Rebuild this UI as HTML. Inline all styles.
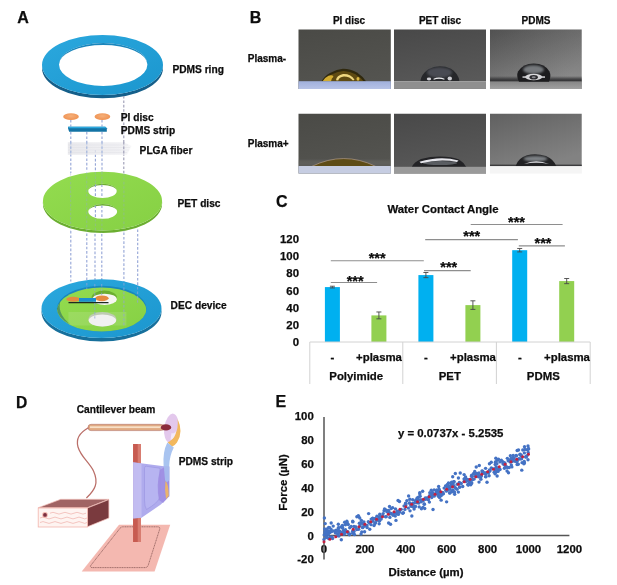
<!DOCTYPE html>
<html><head><meta charset="utf-8"><title>Figure</title>
<style>
html,body{margin:0;padding:0;background:#fff}
svg{display:block}
text{font-family:"Liberation Sans",Arial,sans-serif;font-weight:700;fill:#0d0d0d;stroke:#0d0d0d;stroke-width:0.25px;stroke-linejoin:round}
</style></head><body>
<svg width="617" height="585" viewBox="0 0 617 585">
<defs>
<linearGradient id="gring" x1="0" y1="0" x2="1" y2="1"><stop offset="0" stop-color="#2BA8DE"/><stop offset="1" stop-color="#1B96CE"/></linearGradient>
<linearGradient id="gpet" x1="0" y1="0" x2="1" y2="1"><stop offset="0" stop-color="#93DC4F"/><stop offset="1" stop-color="#86D044"/></linearGradient>
<radialGradient id="gpi" cx="0.5" cy="0.4" r="0.6"><stop offset="0" stop-color="#F6B07A"/><stop offset="1" stop-color="#EE9050"/></radialGradient>
<linearGradient id="gplga" x1="0" y1="0" x2="1" y2="0"><stop offset="0" stop-color="#E4E4E8"/><stop offset="0.8" stop-color="#ECECF0"/><stop offset="1" stop-color="#F6F6F8"/></linearGradient>
<linearGradient id="gbg1" x1="0" y1="0" x2="0.3" y2="1"><stop offset="0" stop-color="#4A4A46"/><stop offset="1" stop-color="#545450"/></linearGradient>
<linearGradient id="gbg2" x1="0" y1="0" x2="0.3" y2="1"><stop offset="0" stop-color="#484848"/><stop offset="1" stop-color="#595959"/></linearGradient>
<linearGradient id="gbg3" x1="0" y1="0" x2="1" y2="0.5"><stop offset="0" stop-color="#585858"/><stop offset="1" stop-color="#7C7C7C"/></linearGradient>
<linearGradient id="gbg3v" x1="0" y1="0" x2="0" y2="1"><stop offset="0" stop-color="#000" stop-opacity="0.08"/><stop offset="0.8" stop-color="#fff" stop-opacity="0.1"/></linearGradient>
<linearGradient id="gsub1" x1="0" y1="0" x2="0" y2="1"><stop offset="0" stop-color="#A0B0DC"/><stop offset="0.85" stop-color="#B6C2E6"/></linearGradient>
<linearGradient id="gband" x1="0" y1="0" x2="0" y2="1"><stop offset="0" stop-color="#303032" stop-opacity="0"/><stop offset="0.55" stop-color="#303032" stop-opacity="0.75"/><stop offset="1" stop-color="#2C2C2E"/></linearGradient>
<linearGradient id="gsub3" x1="0" y1="0" x2="0" y2="1"><stop offset="0" stop-color="#868686"/><stop offset="1" stop-color="#A2A2A2"/></linearGradient>
<linearGradient id="gbg3b" x1="0" y1="0" x2="0.5" y2="1"><stop offset="0" stop-color="#606060"/><stop offset="1" stop-color="#828282"/></linearGradient>
<filter id="b1" x="-30%" y="-30%" width="160%" height="160%"><feGaussianBlur stdDeviation="0.9"/></filter>
<filter id="b03" x="-30%" y="-30%" width="160%" height="160%"><feGaussianBlur stdDeviation="0.3"/></filter>
<filter id="b05" x="-30%" y="-30%" width="160%" height="160%"><feGaussianBlur stdDeviation="0.45"/></filter>
<clipPath id="c11"><rect x="298.5" y="29.5" width="92.3" height="59.5"/></clipPath>
<clipPath id="c12"><rect x="394" y="29.5" width="92" height="59.3"/></clipPath>
<clipPath id="c13"><rect x="489.9" y="29.5" width="91.9" height="59.5"/></clipPath>
<clipPath id="c21"><rect x="298.5" y="113.7" width="92.3" height="59.9"/></clipPath>
<clipPath id="c22"><rect x="394" y="113.7" width="92" height="59.9"/></clipPath>
<clipPath id="c23"><rect x="489.9" y="113.7" width="91.9" height="52.6"/></clipPath>
</defs>
<rect width="617" height="585" fill="#fff"/>
<g id="pA">
<text x="17.2" y="22.6" font-size="16">A</text>
<path d="M42,65 a60.5,30 0 1,0 121,0 v3.2 a60.5,30 0 1,1 -121,0 z" fill="#155F8A"/>
<path fill-rule="evenodd" fill="url(#gring)" d="M42,65 a60.5,30 0 1,0 121,0 a60.5,30 0 1,0 -121,0 z M59,64.5 a44.2,21.5 0 1,0 88.4,0 a44.2,21.5 0 1,0 -88.4,0 z"/>
<path d="M59,64.5 a44.2,21.5 0 0,1 88.4,0 a44.2,19.6 0 0,0 -88.4,0 z" fill="#1A86BC"/>
<text x="172.4" y="72.6" font-size="10.2">PDMS ring</text>
<g stroke="#93A4D6" stroke-width="1.1" stroke-dasharray="2.6,1.8" fill="none">
<path d="M70.8,120 V126.5 M70.8,132 V173"/><path d="M86.8,132 V171"/><path d="M95.4,150 V185"/><path d="M102,120 V126.5 M102,132 V185"/>
</g>
<path d="M123.8,96 V173" stroke="#9A9AB4" stroke-width="1.1" stroke-dasharray="2.6,1.8" fill="none"/>
<ellipse cx="71" cy="116.7" rx="7.8" ry="3.4" fill="url(#gpi)"/>
<ellipse cx="102.4" cy="116.7" rx="7.8" ry="3.4" fill="url(#gpi)"/>
<text x="120.8" y="120.6" font-size="10.2">PI disc</text>
<path d="M68.1,126.7 H105.3 L106.8,128.3 V131.8 H69.1 L68.1,128.6 z" fill="#1373A5"/>
<path d="M68.1,126.7 H105.3 L106.8,128.3 H69.1 z" fill="#2EA9DF"/>
<text x="120.8" y="133.6" font-size="10.2">PDMS strip</text>
<path d="M67.8,142.3 H124 L131.6,146 L127,154.7 H67.8 z" fill="url(#gplga)" opacity="0.8"/>
<g stroke="#DADAE0" stroke-width="0.5" opacity="0.7"><path d="M68,145 H128 M68,147.500 H130 M68,150 H129 M68,152.500 H127"/></g>
<g stroke="#8BA6DA" stroke-width="1.1" stroke-dasharray="2.6,1.8" fill="none" opacity="0.75"><path d="M70.8,142 V155 M86.8,142 V155 M102,142 V155"/></g>
<path d="M123.8,142 V155" stroke="#9A9AB4" stroke-width="1.1" stroke-dasharray="2.6,1.8" fill="none"/>
<text x="139.6" y="154.4" font-size="10.2">PLGA fiber</text>
<path d="M42.9,201.2 a59.6,29.4 0 1,0 119.2,0 v2.5 a59.6,29.4 0 1,1 -119.2,0 z" fill="#6BAE30"/>
<path fill-rule="evenodd" fill="url(#gpet)" d="M42.9,201.2 a59.6,29.4 0 1,0 119.2,0 a59.6,29.4 0 1,0 -119.2,0 z M88.3,190.9 a14.2,7.2 0 1,0 28.4,0 a14.2,7.2 0 1,0 -28.4,0 z M88.3,211.4 a14.4,7.4 0 1,0 28.8,0 a14.4,7.4 0 1,0 -28.8,0 z"/>
<path d="M88.3,190.9 a14.2,7.2 0 0,1 28.4,0 a14.2,5.8 0 0,0 -28.4,0 z" fill="#6BAE30"/>
<path d="M88.3,211.4 a14.4,7.4 0 0,1 28.8,0 a14.4,6 0 0,0 -28.8,0 z" fill="#6BAE30"/>
<g stroke="#93A4D6" stroke-width="1.1" stroke-dasharray="2.6,1.8" fill="none" opacity="0.35">
<path d="M70.6,173 V231"/><path d="M86.7,172 V233"/><path d="M123.9,173 V232"/><path d="M95.4,172 V183 M95.4,219 V233"/><path d="M101.9,172 V183 M101.9,219 V233"/></g>
<g stroke="#93A4D6" stroke-width="1.1" stroke-dasharray="2.6,1.8" fill="none">
<path d="M95.4,184.500 V197.500 M95.4,205.500 V218.5"/><path d="M101.9,184.500 V197.500 M101.9,205.500 V218.5"/>
</g>
<text x="177.5" y="207" font-size="10.2">PET disc</text>
<g stroke="#93A4D6" stroke-width="1.1" stroke-dasharray="2.6,1.8" fill="none">
<path d="M70.8,231 V281.5"/><path d="M86.8,233.500 V283"/><path d="M95,234 V284"/><path d="M101.8,234 V284"/><path d="M123.9,232.500 V283"/><path d="M137.7,229.500 V287"/>
</g>
<path d="M41.5,308.6 a60,29.4 0 1,0 120,0 v3.4 a60,29.4 0 1,1 -120,0 z" fill="#17709C"/>
<ellipse cx="101.5" cy="308.6" rx="60" ry="29.4" fill="url(#gring)"/>
<ellipse cx="101.7" cy="308.7" rx="44.8" ry="22.9" fill="#1A86BC"/>
<clipPath id="cdec"><ellipse cx="101.7" cy="308.7" rx="44.8" ry="22.9"/></clipPath>
<g clip-path="url(#cdec)">
<ellipse cx="101.7" cy="310.5" rx="44.8" ry="22.9" fill="url(#gpet)"/>
<path d="M56.9,308.700 a44.8,22.900 0 0,0 14,16 a70,34 0 0,1 -9,-27 z" fill="#0E4A6C" opacity="0.45"/>
<rect x="68.4" y="312" width="58" height="13.5" fill="#E8F0E0" opacity="0.14"/>
<ellipse cx="104.3" cy="297.7" rx="12.7" ry="7.100" fill="#6BAE30"/>
<ellipse cx="104.6" cy="299.3" rx="12.2" ry="5.6" fill="#F6F6F2"/>
<ellipse cx="102.400" cy="319.3" rx="14" ry="7.3" fill="#BFCBB4"/>
<ellipse cx="102.400" cy="320.5" rx="13.7" ry="6.100" fill="#F1F1F1"/>
</g>
<path d="M68.5,302.600 H108.5" stroke="#1E2A22" stroke-width="1.3"/>
<ellipse cx="73.2" cy="299.3" rx="6.9" ry="2.5" fill="#E58A40"/>
<ellipse cx="101.9" cy="298.3" rx="6.7" ry="2.9" fill="#E58A40"/>
<rect x="79" y="298" width="17" height="3.8" fill="#1B8ED0"/>
<g stroke="#93A4D6" stroke-width="1.1" stroke-dasharray="2.6,1.8" fill="none" opacity="0.7">
<path d="M86.8,283 V289"/><path d="M94.8,284 V297 M94.8,303 V318.5"/><path d="M101.700,284 V295"/><path d="M123.9,283 V327"/><path d="M137.6,287 V303.3"/>
</g>
<text x="170.6" y="308.8" font-size="10.2">DEC device</text>
</g>
<g id="pB">
<text x="249.8" y="22.6" font-size="16">B</text>
<text x="349" y="23.8" font-size="10" text-anchor="middle">PI disc</text>
<text x="440" y="23.8" font-size="10" text-anchor="middle">PET disc</text>
<text x="536" y="23.8" font-size="10" text-anchor="middle">PDMS</text>
<text x="247.8" y="62.2" font-size="10">Plasma-</text>
<text x="247.8" y="146.5" font-size="10">Plasma+</text>

<!-- row1 img1 -->
<g clip-path="url(#c11)">
<rect x="298" y="29" width="94" height="61" fill="url(#gbg1)"/>
<path d="M321.400,81.500 Q324,76.500 330,73 Q337,69.300 343,68.800 Q351,69 357,72.500 Q363,76.500 366.200,81.500 z" fill="#30290E"/>
<path d="M323.500,81.300 Q326,77.500 331.500,74.500 Q338,71.300 343.500,71 Q350,71.200 355.500,74.300 Q361,77.800 363.500,81.300 z" fill="#5E4A12"/>
<path d="M322.600,81.200 Q324.500,77.800 328.500,75.800 Q332.500,74.500 333.500,76.800 Q331.500,78.300 331,81.200 z" fill="#D2AC30" filter="url(#b05)"/>
<path d="M336,80.300 Q336.500,75.300 343,74 Q351,73.600 354.500,79.800 L353,80.600 Q350,76.500 344,76.400 Q339,76.800 338.200,80.600 z" fill="#EFD780" filter="url(#b05)"/>
<ellipse cx="358" cy="78.8" rx="1.5" ry="1.9" fill="#D8B644" filter="url(#b05)"/>
<rect x="298" y="81.2" width="94" height="9" fill="url(#gsub1)"/>
</g>
<!-- row1 img2 -->
<g clip-path="url(#c12)">
<rect x="394" y="29" width="92" height="61" fill="url(#gbg2)"/>
<path d="M420.300,81.500 Q421,74.500 428,69.500 Q439,63.600 451,68.800 Q458.500,73.500 459.500,81.500 z" fill="#26272A"/>
<ellipse cx="439.5" cy="72.5" rx="12.5" ry="5.2" fill="#4A4C53" filter="url(#b1)"/>
<path d="M433.500,78.800 Q439,76.300 444.500,78.800 L444.300,79.700 Q439,77.700 433.700,79.700 z" fill="#EDEDF0" filter="url(#b03)"/>
<ellipse cx="429" cy="79" rx="2.2" ry="1.400" fill="#CFCFD4" filter="url(#b05)"/>
<ellipse cx="449.8" cy="78.5" rx="2.2" ry="1.9" fill="#CFCFD4" filter="url(#b05)"/>
<rect x="394" y="81.100" width="92" height="9" fill="#8F8F8F"/><rect x="394" y="81.100" width="92" height="0.8" fill="#A6A6A6"/>
</g>
<!-- row1 img3 -->
<g clip-path="url(#c13)">
<rect x="489.9" y="29" width="92" height="61" fill="url(#gbg3)"/>
<rect x="489.9" y="29" width="92" height="61" fill="url(#gbg3v)"/>
<rect x="489.9" y="76" width="92" height="5.6" fill="url(#gband)"/>
<rect x="489.9" y="81.5" width="92" height="8" fill="url(#gsub3)"/>
<path d="M519,81.800 Q516,76 518,71.500 Q523,63.400 533.700,63.400 Q545,63.400 549.500,71.500 Q551.500,76 549,81.800 z" fill="#1C1C1E"/>
<ellipse cx="533.5" cy="69.5" rx="10.5" ry="4.3" fill="#74787C" filter="url(#b1)"/>
<ellipse cx="533.7" cy="77" rx="8.5" ry="3.3" fill="#DADADC" filter="url(#b05)"/><rect x="522.5" y="76.3" width="22.5" height="1.5" fill="#D0D0D4" filter="url(#b05)"/>
<ellipse cx="533.7" cy="77.2" rx="4.2" ry="2.3" fill="#2C2C30"/>
<ellipse cx="533.7" cy="77.2" rx="2" ry="1" fill="#8A8A8E"/>
</g>
<!-- row2 img1 -->
<g clip-path="url(#c21)">
<rect x="298" y="113" width="94" height="61" fill="url(#gbg1)"/>
<rect x="298" y="160" width="94" height="6.5" fill="#6A6A66" opacity="0.5" filter="url(#b1)"/>
<path d="M312,166.300 Q343.700,150.800 375.500,166.300 z" fill="#5E4C16"/>
<path d="M312,166.300 Q343.700,150.800 375.500,166.3" stroke="#C0A898" stroke-width="0.6" fill="none"/>
<rect x="298" y="166" width="94" height="9" fill="#C6CDE2"/>
</g>
<!-- row2 img2 -->
<g clip-path="url(#c22)">
<rect x="394" y="113" width="92" height="61" fill="url(#gbg2)"/>
<path d="M411.900,167 Q414,162 421,159 Q430,156.600 440,156.600 Q452,156.600 459,159.500 Q464,162.500 466.200,167 z" fill="#232326"/>
<ellipse cx="440" cy="163" rx="17" ry="2" fill="#5A5D62" filter="url(#b05)"/>
<path d="M419.500,161.800 Q440,155.300 458.500,160.400 L457,162 Q440,158.600 421,163.300 z" fill="#E6E6EC" filter="url(#b03)"/>
<rect x="394" y="166.8" width="92" height="9" fill="#9A9A9A"/>
</g>
<!-- row2 img3 -->
<g clip-path="url(#c23)">
<rect x="489.9" y="113" width="92" height="54" fill="url(#gbg3b)"/>
<rect x="489.9" y="164.6" width="92" height="1.8" fill="#3C3C3E"/>
<path d="M515.500,166.300 Q518,158 527,155.300 Q536,153 546,156 Q554,159.500 556.300,166.300 z" fill="#222224"/>
<ellipse cx="535.5" cy="158.8" rx="12" ry="2.8" fill="#7C8084" filter="url(#b1)"/>
<path d="M524,164 Q536,158.500 549,164 Q536,161.500 524,164 z" fill="#D0D0D4" filter="url(#b05)"/>
</g>
<rect x="489.9" y="166.3" width="92" height="7.3" fill="#F5F5F5"/>

</g>
<g id="pC">
<text x="275.9" y="206.6" font-size="16">C</text>
<text x="443" y="213.4" font-size="11.4" text-anchor="middle">Water Contact Angle</text>
<text x="299" y="346" font-size="11.4" text-anchor="end">0</text>
<text x="299" y="328.84" font-size="11.4" text-anchor="end">20</text>
<text x="299" y="311.68" font-size="11.4" text-anchor="end">40</text>
<text x="299" y="294.52" font-size="11.4" text-anchor="end">60</text>
<text x="299" y="277.36" font-size="11.4" text-anchor="end">80</text>
<text x="299" y="260.2" font-size="11.4" text-anchor="end">100</text>
<text x="299" y="243.04" font-size="11.4" text-anchor="end">120</text>
<rect x="324.9" y="287.09" width="15" height="54.91" fill="#00B0F0"/>
<path d="M332.4,286.23 V287.95 M329.9,286.23 h5 M329.9,287.95 h5" stroke="#484848" stroke-width="0.9" fill="none"/>
<rect x="371.4" y="315.4" width="15" height="26.6" fill="#92D050"/>
<path d="M378.9,311.97 V318.83 M376.4,311.97 h5 M376.4,318.83 h5" stroke="#484848" stroke-width="0.9" fill="none"/>
<rect x="418.4" y="275.08" width="15" height="66.92" fill="#00B0F0"/>
<path d="M425.9,272.5 V277.65 M423.4,272.5 h5 M423.4,277.65 h5" stroke="#484848" stroke-width="0.9" fill="none"/>
<rect x="465.4" y="305.11" width="15" height="36.89" fill="#92D050"/>
<path d="M472.9,300.82 V309.4 M470.4,300.82 h5 M470.4,309.4 h5" stroke="#484848" stroke-width="0.9" fill="none"/>
<rect x="512.2" y="250.19" width="15" height="91.81" fill="#00B0F0"/>
<path d="M519.7,248.48 V251.91 M517.2,248.48 h5 M517.2,251.91 h5" stroke="#484848" stroke-width="0.9" fill="none"/>
<rect x="559.2" y="281.08" width="15" height="60.92" fill="#92D050"/>
<path d="M566.7,278.51 V283.66 M564.2,278.51 h5 M564.2,283.66 h5" stroke="#484848" stroke-width="0.9" fill="none"/>
<path d="M309.8,342.0 H590.2 M309.8,342.0 V384 M402.8,342.0 V384 M496.4,342.0 V384 M590.2,342.0 V384" stroke="#D2D2D2" stroke-width="1" fill="none"/>
<text x="332.5" y="360.8" font-size="11.4" text-anchor="middle">-</text>
<text x="379" y="360.8" font-size="11.4" text-anchor="middle">+plasma</text>
<text x="426" y="360.8" font-size="11.4" text-anchor="middle">-</text>
<text x="473" y="360.8" font-size="11.4" text-anchor="middle">+plasma</text>
<text x="520" y="360.8" font-size="11.4" text-anchor="middle">-</text>
<text x="567" y="360.8" font-size="11.4" text-anchor="middle">+plasma</text>
<text x="356.2" y="379.6" font-size="11.4" text-anchor="middle">Polyimide</text>
<text x="449.8" y="379.6" font-size="11.4" text-anchor="middle">PET</text>
<text x="543.3" y="379.6" font-size="11.4" text-anchor="middle">PDMS</text>
<path d="M330.8,282.5 H377.1" stroke="#8E8E8E" stroke-width="1.2"/>
<path d="M330.8,260.75 H423.8" stroke="#8E8E8E" stroke-width="1.2"/>
<path d="M424,270.6 H470.7" stroke="#8E8E8E" stroke-width="1.2"/>
<path d="M425.2,239.6 H517.9" stroke="#8E8E8E" stroke-width="1.2"/>
<path d="M470.7,224.5 H562.6" stroke="#8E8E8E" stroke-width="1.2"/>
<path d="M518.8,245.9 H564.9" stroke="#8E8E8E" stroke-width="1.2"/>
<text x="355.2" y="285.9" font-size="14.5" text-anchor="middle">***</text>
<text x="377.2" y="263.2" font-size="14.5" text-anchor="middle">***</text>
<text x="448.8" y="272.3" font-size="14.5" text-anchor="middle">***</text>
<text x="471.8" y="241.1" font-size="14.5" text-anchor="middle">***</text>
<text x="516.5" y="226.65" font-size="14.5" text-anchor="middle">***</text>
<text x="543" y="247.5" font-size="14.5" text-anchor="middle">***</text>
</g>
<g id="pD">
<text x="16" y="407.6" font-size="15.6">D</text>
<text x="116" y="413" font-size="10.2" text-anchor="middle">Cantilever beam</text>
<text x="178.7" y="465.2" font-size="10.2">PDMS strip</text>

<!-- mat -->
<path d="M81.700,571.500 L119,524.800 H170.200 L154.600,571.500 z" fill="#F4B8B0"/>
<path d="M92.500,567.600 Q89,567.600 91.500,564.500 L120,528.300 Q121.200,526.800 123,526.800 H157.500 Q160.500,526.800 159.600,529.500 L148.300,565 Q147.500,567.600 145,567.600 z" fill="none" stroke="#5E3434" stroke-width="0.55" stroke-dasharray="1.2,0.5"/>
<!-- post -->
<rect x="133.100" y="444" width="7.9" height="98" fill="#D87C70"/>
<rect x="133.100" y="444" width="4.6" height="98" fill="#C75B51"/>
<!-- ellipse at tip -->
<ellipse cx="171.3" cy="428" rx="7" ry="14.5" fill="#E3C8EC" transform="rotate(8 171.300 428)"/>
<path d="M177.600,419 Q183.800,432 177,442.500 Q174.500,446 171.800,446.800 L167.600,442.600 Q172,440.500 175,435 Q178.600,428 177.600,419 z" fill="#F2B85E"/>
<path d="M171.500,433 Q174,434.500 176.200,431 Q175,438.500 170.500,440 z" fill="#F6EEFA" opacity="0.85"/>
<!-- PDMS strip (blue) -->
<path d="M167.300,442.400 L173.800,447.600 Q169.500,456 169.200,466 L169.300,496 L164.500,500 L163.600,466 Q162.500,452 167.300,442.400 z" fill="#A9C4F0"/>
<!-- lavender sheet -->
<path d="M133.100,462.300 L163.800,466.200 L169.200,466.200 L169.200,496.200 L160.800,504.600 L141.500,517.700 L133.100,518.500 z" fill="#A9A5EC" opacity="0.93"/>
<path d="M133.100,462.300 L141.500,463.400 V517.700 L133.100,518.500 z" fill="#C9C6F6" opacity="0.75"/>
<path d="M144.500,468 Q144.500,466 146.500,466.300 L160,468.200 V497 Q158,503 146.500,509.500 Q144.500,507 144.500,500 z" fill="#B7B4F1" stroke="#9C96E2" stroke-width="0.7"/>
<path d="M160,470 L164.500,467 L169.200,467 V496.200 L163,503 L159,500 Q156,485 160,470 z" fill="#9D8CE2" opacity="0.85"/>
<path d="M163.800,466.200 H169.200 V480 Q166.500,484 165,480 z" fill="#A9C4F0" opacity="0.8"/>
<path d="M165.400,481 Q168.500,483 168.800,496 L166,499 Q164.500,490 165.400,481 z" fill="#F2B85E" opacity="0.9"/>
<!-- beam -->
<path d="M91,424.300 H160 Q168,425.500 171,427.400 Q168,429.500 160,430.600 H91 Q88,430.600 88,427.500 Q88,424.300 91,424.300 z" fill="#E0AA82" stroke="#A8625A" stroke-width="0.5"/>
<rect x="90" y="426.3" width="72" height="1.8" fill="#F8E0C6"/>
<ellipse cx="166" cy="427.400" rx="5.2" ry="3.100" fill="#8C2C3C"/>
<!-- wire -->
<path d="M88.400,427.800 C79,433 76,440 78,447 C81,457 89,462 93.500,471 C99,483 95,490 86.400,498" stroke="#BA6E68" stroke-width="1.25" fill="none"/>
<!-- box -->
<path d="M38.200,507.700 L60.700,499.300 H108.900 L87.400,507.700 z" fill="#A06464" stroke="#F4C0BA" stroke-width="0.7"/>
<path d="M87.400,508 L108.900,499.600 V518 L87.400,526.800 z" fill="#7A3A3E" stroke="#F4C0BA" stroke-width="0.7"/>
<rect x="38.2" y="508" width="49.2" height="19" fill="#FEF4F1" stroke="#F2B4AC" stroke-width="0.8"/>
<path d="M50,513.200 q3,-1.800 6,0 t6,0 t6,0 t6,0 t6,0 t6,0" stroke="#EFB0AA" stroke-width="0.7" fill="none"/>
<path d="M40,518 q3,-1.800 6,0 t6,0 t6,0 t6,0 t6,0 t6,0 t6,0 t5,0" stroke="#EFB0AA" stroke-width="0.7" fill="none"/>
<path d="M40,522.500 q3,-1.800 6,0 t6,0 t6,0 t6,0 t6,0 t6,0 t6,0 t5,0" stroke="#EFB0AA" stroke-width="0.7" fill="none"/>
<circle cx="45" cy="514.9" r="2.8" fill="#F2B4AC"/>
<circle cx="45" cy="514.9" r="1.9" fill="#7A2E40"/>

</g>
<g id="pE">
<text x="275.5" y="407.4" font-size="16">E</text>
<text x="313.8" y="563.38" font-size="11.4" text-anchor="end">-20</text>
<text x="313.8" y="539.6" font-size="11.4" text-anchor="end">0</text>
<text x="313.8" y="515.82" font-size="11.4" text-anchor="end">20</text>
<text x="313.8" y="492.04" font-size="11.4" text-anchor="end">40</text>
<text x="313.8" y="468.26" font-size="11.4" text-anchor="end">60</text>
<text x="313.8" y="444.48" font-size="11.4" text-anchor="end">80</text>
<text x="313.8" y="420.1" font-size="11.4" text-anchor="end">100</text>
<text x="324" y="553" font-size="11.4" text-anchor="middle">0</text>
<text x="364.9" y="553" font-size="11.4" text-anchor="middle">200</text>
<text x="405.8" y="553" font-size="11.4" text-anchor="middle">400</text>
<text x="446.7" y="553" font-size="11.4" text-anchor="middle">600</text>
<text x="487.6" y="553" font-size="11.4" text-anchor="middle">800</text>
<text x="528.5" y="553" font-size="11.4" text-anchor="middle">1000</text>
<text x="569.4" y="553" font-size="11.4" text-anchor="middle">1200</text>
<text x="450.7" y="436.8" font-size="11.4" text-anchor="middle">y = 0.0737x - 5.2535</text>
<text x="426" y="575.6" font-size="11.4" text-anchor="middle">Distance (µm)</text>
<text transform="translate(287.3,482.400) rotate(-90)" font-size="11.4" text-anchor="middle">Force (µN)</text>
<path d="M324.0,417 V559.38 M324.0,535.6 H569.4" stroke="#555" stroke-width="1.5" fill="none"/>
<g fill="#4472C4"><circle cx="324" cy="539.5" r="1.7"/><circle cx="513" cy="459.2" r="1.7"/><circle cx="419.23" cy="506.89" r="1.7"/><circle cx="325.43" cy="534.09" r="1.7"/><circle cx="361.76" cy="531.85" r="1.7"/><circle cx="486.16" cy="472.82" r="1.7"/><circle cx="326.86" cy="530.39" r="1.7"/><circle cx="342.54" cy="527.98" r="1.7"/><circle cx="489.57" cy="471.35" r="1.7"/><circle cx="328.29" cy="534.39" r="1.7"/><circle cx="524.86" cy="449.53" r="1.7"/><circle cx="449.88" cy="489.31" r="1.7"/><circle cx="329.72" cy="532.45" r="1.7"/><circle cx="432.05" cy="494.91" r="1.7"/><circle cx="336.18" cy="530.25" r="1.7"/><circle cx="331.15" cy="529.51" r="1.7"/><circle cx="330.15" cy="537.39" r="1.7"/><circle cx="496.28" cy="466.96" r="1.7"/><circle cx="332.58" cy="538.49" r="1.7"/><circle cx="426.2" cy="498.81" r="1.7"/><circle cx="459.47" cy="487.22" r="1.7"/><circle cx="334.01" cy="530.99" r="1.7"/><circle cx="528.02" cy="446" r="1.7"/><circle cx="468.75" cy="480.05" r="1.7"/><circle cx="335.44" cy="532.88" r="1.7"/><circle cx="383.11" cy="513.6" r="1.7"/><circle cx="338.36" cy="530.52" r="1.7"/><circle cx="336.87" cy="535.73" r="1.7"/><circle cx="497.13" cy="476.04" r="1.7"/><circle cx="497.27" cy="460.35" r="1.7"/><circle cx="338.3" cy="527.97" r="1.7"/><circle cx="510.15" cy="462.07" r="1.7"/><circle cx="420.11" cy="496.27" r="1.7"/><circle cx="339.73" cy="531.23" r="1.7"/><circle cx="338.94" cy="536.1" r="1.7"/><circle cx="379.17" cy="523.76" r="1.7"/><circle cx="341.16" cy="526.99" r="1.7"/><circle cx="521.15" cy="455.31" r="1.7"/><circle cx="479.02" cy="472.98" r="1.7"/><circle cx="342.59" cy="527.82" r="1.7"/><circle cx="344.66" cy="522.3" r="1.7"/><circle cx="360.34" cy="523.29" r="1.7"/><circle cx="344.02" cy="534.21" r="1.7"/><circle cx="362.99" cy="526.88" r="1.7"/><circle cx="473.67" cy="473.41" r="1.7"/><circle cx="345.45" cy="524.8" r="1.7"/><circle cx="347.83" cy="531.59" r="1.7"/><circle cx="379.17" cy="516.75" r="1.7"/><circle cx="346.88" cy="521.31" r="1.7"/><circle cx="386.2" cy="516.64" r="1.7"/><circle cx="504.95" cy="463.23" r="1.7"/><circle cx="348.31" cy="524.53" r="1.7"/><circle cx="498.72" cy="468.25" r="1.7"/><circle cx="526.31" cy="456.73" r="1.7"/><circle cx="349.74" cy="527.71" r="1.7"/><circle cx="482.02" cy="470.83" r="1.7"/><circle cx="391.27" cy="513.51" r="1.7"/><circle cx="351.17" cy="526.53" r="1.7"/><circle cx="342.43" cy="532.94" r="1.7"/><circle cx="446.96" cy="490.79" r="1.7"/><circle cx="352.6" cy="531.21" r="1.7"/><circle cx="520.14" cy="454.31" r="1.7"/><circle cx="422.92" cy="507.34" r="1.7"/><circle cx="354.03" cy="531.54" r="1.7"/><circle cx="361.39" cy="520.38" r="1.7"/><circle cx="491.24" cy="462.26" r="1.7"/><circle cx="355.46" cy="527.23" r="1.7"/><circle cx="475.21" cy="474.2" r="1.7"/><circle cx="516.31" cy="455.89" r="1.7"/><circle cx="356.89" cy="516.76" r="1.7"/><circle cx="504.41" cy="468.2" r="1.7"/><circle cx="345.24" cy="532.26" r="1.7"/><circle cx="358.32" cy="515.67" r="1.7"/><circle cx="372.75" cy="518.24" r="1.7"/><circle cx="468.09" cy="480.46" r="1.7"/><circle cx="359.75" cy="518.12" r="1.7"/><circle cx="445.98" cy="490.31" r="1.7"/><circle cx="471.31" cy="476.09" r="1.7"/><circle cx="361.18" cy="523.04" r="1.7"/><circle cx="438.39" cy="491.5" r="1.7"/><circle cx="498.32" cy="469.84" r="1.7"/><circle cx="362.61" cy="527.65" r="1.7"/><circle cx="511.6" cy="461.23" r="1.7"/><circle cx="379.05" cy="517.49" r="1.7"/><circle cx="364.04" cy="526.15" r="1.7"/><circle cx="360.04" cy="525.72" r="1.7"/><circle cx="399.42" cy="511.63" r="1.7"/><circle cx="365.47" cy="525.1" r="1.7"/><circle cx="398.06" cy="500.55" r="1.7"/><circle cx="458.34" cy="492.09" r="1.7"/><circle cx="366.9" cy="525.57" r="1.7"/><circle cx="352.7" cy="533.28" r="1.7"/><circle cx="331.17" cy="522.95" r="1.7"/><circle cx="368.33" cy="521.77" r="1.7"/><circle cx="467.35" cy="479.53" r="1.7"/><circle cx="454.1" cy="486.31" r="1.7"/><circle cx="369.76" cy="529.32" r="1.7"/><circle cx="389.22" cy="513.11" r="1.7"/><circle cx="528.37" cy="449.35" r="1.7"/><circle cx="371.19" cy="519.11" r="1.7"/><circle cx="474.72" cy="471.44" r="1.7"/><circle cx="467.9" cy="484.4" r="1.7"/><circle cx="372.62" cy="518.39" r="1.7"/><circle cx="395.95" cy="520.42" r="1.7"/><circle cx="464.11" cy="474.58" r="1.7"/><circle cx="374.05" cy="525.6" r="1.7"/><circle cx="409.31" cy="503.08" r="1.7"/><circle cx="441.14" cy="500.15" r="1.7"/><circle cx="375.48" cy="522.84" r="1.7"/><circle cx="443.16" cy="493.84" r="1.7"/><circle cx="448.51" cy="482.99" r="1.7"/><circle cx="376.91" cy="516.14" r="1.7"/><circle cx="527.13" cy="449.63" r="1.7"/><circle cx="403.44" cy="512.68" r="1.7"/><circle cx="378.34" cy="519.1" r="1.7"/><circle cx="414.09" cy="509.02" r="1.7"/><circle cx="495.45" cy="462.05" r="1.7"/><circle cx="379.77" cy="514.27" r="1.7"/><circle cx="330.09" cy="536.84" r="1.7"/><circle cx="371.08" cy="524.67" r="1.7"/><circle cx="381.2" cy="518.98" r="1.7"/><circle cx="449.67" cy="492.89" r="1.7"/><circle cx="512.23" cy="461.21" r="1.7"/><circle cx="382.63" cy="516.06" r="1.7"/><circle cx="385.56" cy="516.76" r="1.7"/><circle cx="358.68" cy="529.2" r="1.7"/><circle cx="384.06" cy="510.75" r="1.7"/><circle cx="414.38" cy="506.73" r="1.7"/><circle cx="506.36" cy="466.73" r="1.7"/><circle cx="385.49" cy="509.73" r="1.7"/><circle cx="364.59" cy="531.68" r="1.7"/><circle cx="510.96" cy="458.38" r="1.7"/><circle cx="386.92" cy="511.72" r="1.7"/><circle cx="443.25" cy="493.71" r="1.7"/><circle cx="388.72" cy="510.73" r="1.7"/><circle cx="388.35" cy="510.38" r="1.7"/><circle cx="495.19" cy="464.46" r="1.7"/><circle cx="518.28" cy="464.24" r="1.7"/><circle cx="389.78" cy="514.11" r="1.7"/><circle cx="416.16" cy="499.72" r="1.7"/><circle cx="380.27" cy="516.72" r="1.7"/><circle cx="391.21" cy="508.61" r="1.7"/><circle cx="451.96" cy="490.84" r="1.7"/><circle cx="495.6" cy="468.17" r="1.7"/><circle cx="392.64" cy="507.63" r="1.7"/><circle cx="339.27" cy="531.32" r="1.7"/><circle cx="330.44" cy="531.82" r="1.7"/><circle cx="394.07" cy="512.74" r="1.7"/><circle cx="468.92" cy="483.17" r="1.7"/><circle cx="485.86" cy="474.11" r="1.7"/><circle cx="395.5" cy="508.85" r="1.7"/><circle cx="417.01" cy="501.7" r="1.7"/><circle cx="329.06" cy="531.46" r="1.7"/><circle cx="396.93" cy="513.44" r="1.7"/><circle cx="352.81" cy="521.89" r="1.7"/><circle cx="415.31" cy="500.92" r="1.7"/><circle cx="398.36" cy="514.38" r="1.7"/><circle cx="489.11" cy="475.77" r="1.7"/><circle cx="520.01" cy="459.03" r="1.7"/><circle cx="399.79" cy="512.06" r="1.7"/><circle cx="421.17" cy="499.93" r="1.7"/><circle cx="420.56" cy="499.88" r="1.7"/><circle cx="401.22" cy="509.37" r="1.7"/><circle cx="379.7" cy="520.67" r="1.7"/><circle cx="394.7" cy="513.28" r="1.7"/><circle cx="402.65" cy="513.19" r="1.7"/><circle cx="449.65" cy="487.83" r="1.7"/><circle cx="485.95" cy="476.85" r="1.7"/><circle cx="404.08" cy="505.97" r="1.7"/><circle cx="514.72" cy="461.17" r="1.7"/><circle cx="471.73" cy="475.23" r="1.7"/><circle cx="405.51" cy="503.39" r="1.7"/><circle cx="451.92" cy="483.42" r="1.7"/><circle cx="440.32" cy="494.29" r="1.7"/><circle cx="406.94" cy="500.6" r="1.7"/><circle cx="517.1" cy="464.5" r="1.7"/><circle cx="418.83" cy="502.94" r="1.7"/><circle cx="408.37" cy="508.12" r="1.7"/><circle cx="471.64" cy="475.96" r="1.7"/><circle cx="470.76" cy="484.69" r="1.7"/><circle cx="409.8" cy="502.92" r="1.7"/><circle cx="524.51" cy="446.74" r="1.7"/><circle cx="523.87" cy="463.77" r="1.7"/><circle cx="411.23" cy="506.26" r="1.7"/><circle cx="389.52" cy="506.46" r="1.7"/><circle cx="395.27" cy="515.95" r="1.7"/><circle cx="412.66" cy="499.74" r="1.7"/><circle cx="436.54" cy="491.27" r="1.7"/><circle cx="481.1" cy="475.58" r="1.7"/><circle cx="414.09" cy="503.16" r="1.7"/><circle cx="489.47" cy="463.68" r="1.7"/><circle cx="359.36" cy="523.3" r="1.7"/><circle cx="415.52" cy="506.57" r="1.7"/><circle cx="352.73" cy="521.17" r="1.7"/><circle cx="354.4" cy="534.49" r="1.7"/><circle cx="416.95" cy="502.75" r="1.7"/><circle cx="495.78" cy="472.19" r="1.7"/><circle cx="424.73" cy="508.54" r="1.7"/><circle cx="418.38" cy="499.63" r="1.7"/><circle cx="369.28" cy="523.03" r="1.7"/><circle cx="431.7" cy="497.47" r="1.7"/><circle cx="419.81" cy="493.91" r="1.7"/><circle cx="454.65" cy="494.25" r="1.7"/><circle cx="438.51" cy="493.99" r="1.7"/><circle cx="421.24" cy="501.81" r="1.7"/><circle cx="496.86" cy="463.79" r="1.7"/><circle cx="508.16" cy="460.71" r="1.7"/><circle cx="422.67" cy="491.28" r="1.7"/><circle cx="522.05" cy="462.66" r="1.7"/><circle cx="365.1" cy="525.11" r="1.7"/><circle cx="424.1" cy="504.02" r="1.7"/><circle cx="447.77" cy="489.97" r="1.7"/><circle cx="329.68" cy="527.68" r="1.7"/><circle cx="425.53" cy="499.35" r="1.7"/><circle cx="405.92" cy="504.96" r="1.7"/><circle cx="424.42" cy="504.19" r="1.7"/><circle cx="426.97" cy="498.31" r="1.7"/><circle cx="434.17" cy="496.15" r="1.7"/><circle cx="408.62" cy="495.98" r="1.7"/><circle cx="428.4" cy="499.78" r="1.7"/><circle cx="379.05" cy="520.52" r="1.7"/><circle cx="412.69" cy="503.46" r="1.7"/><circle cx="429.83" cy="492.71" r="1.7"/><circle cx="421.45" cy="508.75" r="1.7"/><circle cx="388.87" cy="511.85" r="1.7"/><circle cx="431.26" cy="490.19" r="1.7"/><circle cx="513.22" cy="455.51" r="1.7"/><circle cx="328.66" cy="527.54" r="1.7"/><circle cx="432.69" cy="494.19" r="1.7"/><circle cx="464.5" cy="478.68" r="1.7"/><circle cx="389.87" cy="517.38" r="1.7"/><circle cx="434.12" cy="489.84" r="1.7"/><circle cx="345.45" cy="529.7" r="1.7"/><circle cx="428.39" cy="499.35" r="1.7"/><circle cx="435.55" cy="494.06" r="1.7"/><circle cx="432.46" cy="492.45" r="1.7"/><circle cx="413.32" cy="506.8" r="1.7"/><circle cx="436.98" cy="490.24" r="1.7"/><circle cx="432.25" cy="493.86" r="1.7"/><circle cx="453.1" cy="484.02" r="1.7"/><circle cx="438.41" cy="496.31" r="1.7"/><circle cx="498.08" cy="471.38" r="1.7"/><circle cx="449.09" cy="486.25" r="1.7"/><circle cx="439.84" cy="494.72" r="1.7"/><circle cx="475.49" cy="473.41" r="1.7"/><circle cx="388.6" cy="522.98" r="1.7"/><circle cx="441.27" cy="495.55" r="1.7"/><circle cx="368.61" cy="513.59" r="1.7"/><circle cx="528.16" cy="452.57" r="1.7"/><circle cx="442.7" cy="492.52" r="1.7"/><circle cx="372.95" cy="521.37" r="1.7"/><circle cx="343.84" cy="533.16" r="1.7"/><circle cx="444.13" cy="488.1" r="1.7"/><circle cx="485.54" cy="476.63" r="1.7"/><circle cx="349.77" cy="533.97" r="1.7"/><circle cx="445.56" cy="485.92" r="1.7"/><circle cx="327.63" cy="531.3" r="1.7"/><circle cx="510.38" cy="455.63" r="1.7"/><circle cx="446.99" cy="487.01" r="1.7"/><circle cx="427.41" cy="497.96" r="1.7"/><circle cx="479.04" cy="482.1" r="1.7"/><circle cx="448.42" cy="488.65" r="1.7"/><circle cx="362.65" cy="523.4" r="1.7"/><circle cx="331.66" cy="531.55" r="1.7"/><circle cx="449.85" cy="492.94" r="1.7"/><circle cx="440.31" cy="493.7" r="1.7"/><circle cx="353.97" cy="526.38" r="1.7"/><circle cx="451.28" cy="484.58" r="1.7"/><circle cx="495.82" cy="458.18" r="1.7"/><circle cx="343.48" cy="530.47" r="1.7"/><circle cx="452.71" cy="476.68" r="1.7"/><circle cx="418.49" cy="497.25" r="1.7"/><circle cx="480.39" cy="477.13" r="1.7"/><circle cx="454.14" cy="481.71" r="1.7"/><circle cx="429.38" cy="502.09" r="1.7"/><circle cx="326.71" cy="530.99" r="1.7"/><circle cx="455.57" cy="488.04" r="1.7"/><circle cx="361.07" cy="534.05" r="1.7"/><circle cx="416.83" cy="502.37" r="1.7"/><circle cx="457" cy="489.33" r="1.7"/><circle cx="363.9" cy="522.07" r="1.7"/><circle cx="327.15" cy="528.89" r="1.7"/><circle cx="458.43" cy="478.05" r="1.7"/><circle cx="468.11" cy="485.02" r="1.7"/><circle cx="500.02" cy="469.5" r="1.7"/><circle cx="459.86" cy="486.88" r="1.7"/><circle cx="446.62" cy="501.83" r="1.7"/><circle cx="488.59" cy="471.66" r="1.7"/><circle cx="461.29" cy="483.52" r="1.7"/><circle cx="476.24" cy="466.94" r="1.7"/><circle cx="483.1" cy="471.9" r="1.7"/><circle cx="462.72" cy="486.53" r="1.7"/><circle cx="507.34" cy="458.35" r="1.7"/><circle cx="480.91" cy="479.26" r="1.7"/><circle cx="464.15" cy="481.36" r="1.7"/><circle cx="471.78" cy="482.99" r="1.7"/><circle cx="338.43" cy="533.66" r="1.7"/><circle cx="465.58" cy="477.03" r="1.7"/><circle cx="326.17" cy="537.51" r="1.7"/><circle cx="451.61" cy="482.22" r="1.7"/><circle cx="467.01" cy="479.38" r="1.7"/><circle cx="460.22" cy="472.96" r="1.7"/><circle cx="393.08" cy="515.31" r="1.7"/><circle cx="468.44" cy="484.77" r="1.7"/><circle cx="433.01" cy="509.55" r="1.7"/><circle cx="455.34" cy="473.57" r="1.7"/><circle cx="469.87" cy="481.59" r="1.7"/><circle cx="524.43" cy="463.07" r="1.7"/><circle cx="328.67" cy="538.49" r="1.7"/><circle cx="471.3" cy="483.51" r="1.7"/><circle cx="376.48" cy="520.51" r="1.7"/><circle cx="363.97" cy="523.9" r="1.7"/><circle cx="472.73" cy="479.54" r="1.7"/><circle cx="375.31" cy="518.45" r="1.7"/><circle cx="509.2" cy="467.47" r="1.7"/><circle cx="474.16" cy="479.12" r="1.7"/><circle cx="521.78" cy="470.16" r="1.7"/><circle cx="454.47" cy="491.88" r="1.7"/><circle cx="475.59" cy="476.25" r="1.7"/><circle cx="446.2" cy="491.12" r="1.7"/><circle cx="479.27" cy="465.57" r="1.7"/><circle cx="477.02" cy="473.44" r="1.7"/><circle cx="356.71" cy="529.61" r="1.7"/><circle cx="425.33" cy="497.95" r="1.7"/><circle cx="478.45" cy="476.84" r="1.7"/><circle cx="517.31" cy="460" r="1.7"/><circle cx="410.03" cy="510.83" r="1.7"/><circle cx="479.88" cy="476.05" r="1.7"/><circle cx="398.76" cy="511.24" r="1.7"/><circle cx="438.65" cy="486.46" r="1.7"/><circle cx="481.31" cy="475.9" r="1.7"/><circle cx="384.54" cy="509.07" r="1.7"/><circle cx="326.87" cy="533.45" r="1.7"/><circle cx="482.74" cy="472.53" r="1.7"/><circle cx="356.02" cy="526.99" r="1.7"/><circle cx="507.55" cy="467.57" r="1.7"/><circle cx="484.17" cy="473.23" r="1.7"/><circle cx="526.2" cy="456.61" r="1.7"/><circle cx="517.14" cy="450.53" r="1.7"/><circle cx="485.6" cy="468.34" r="1.7"/><circle cx="411.84" cy="515.93" r="1.7"/><circle cx="373.84" cy="518.83" r="1.7"/><circle cx="487.03" cy="482.23" r="1.7"/><circle cx="471.8" cy="480.03" r="1.7"/><circle cx="419.78" cy="492.77" r="1.7"/><circle cx="488.46" cy="472.45" r="1.7"/><circle cx="447.44" cy="484.34" r="1.7"/><circle cx="417.19" cy="497.84" r="1.7"/><circle cx="489.89" cy="470.35" r="1.7"/><circle cx="432" cy="494.19" r="1.7"/><circle cx="349.42" cy="534.68" r="1.7"/><circle cx="491.32" cy="467.85" r="1.7"/><circle cx="417.16" cy="502.37" r="1.7"/><circle cx="409.79" cy="499.29" r="1.7"/><circle cx="492.75" cy="468.59" r="1.7"/><circle cx="528.02" cy="459.75" r="1.7"/><circle cx="518.81" cy="458.69" r="1.7"/><circle cx="494.18" cy="472.16" r="1.7"/><circle cx="347.29" cy="523.01" r="1.7"/><circle cx="451.81" cy="491.89" r="1.7"/><circle cx="495.61" cy="470.53" r="1.7"/><circle cx="464.09" cy="479.11" r="1.7"/><circle cx="439.52" cy="497.57" r="1.7"/><circle cx="497.04" cy="471.09" r="1.7"/><circle cx="478.06" cy="474.6" r="1.7"/><circle cx="524.35" cy="452.9" r="1.7"/><circle cx="498.47" cy="459.29" r="1.7"/><circle cx="332.08" cy="536.92" r="1.7"/><circle cx="336.43" cy="532.01" r="1.7"/><circle cx="499.9" cy="461.88" r="1.7"/><circle cx="451.47" cy="482.83" r="1.7"/><circle cx="338.82" cy="527.58" r="1.7"/><circle cx="501.33" cy="460.2" r="1.7"/><circle cx="436.6" cy="490.18" r="1.7"/><circle cx="453.06" cy="490.05" r="1.7"/><circle cx="502.76" cy="461.66" r="1.7"/><circle cx="367.07" cy="527.43" r="1.7"/><circle cx="495.48" cy="462.32" r="1.7"/><circle cx="504.19" cy="462.65" r="1.7"/><circle cx="489.48" cy="469.94" r="1.7"/><circle cx="451.55" cy="486.83" r="1.7"/><circle cx="505.62" cy="467.05" r="1.7"/><circle cx="410.78" cy="505.07" r="1.7"/><circle cx="399.45" cy="501.51" r="1.7"/><circle cx="507.05" cy="470.94" r="1.7"/><circle cx="390.54" cy="524.22" r="1.7"/><circle cx="436.19" cy="494.01" r="1.7"/><circle cx="508.48" cy="472.7" r="1.7"/><circle cx="411.45" cy="505.73" r="1.7"/><circle cx="502.97" cy="463.7" r="1.7"/><circle cx="509.91" cy="460.57" r="1.7"/><circle cx="439.38" cy="491.54" r="1.7"/><circle cx="423.15" cy="500.82" r="1.7"/><circle cx="511.34" cy="464.98" r="1.7"/><circle cx="482.59" cy="471.18" r="1.7"/><circle cx="459.4" cy="482.43" r="1.7"/><circle cx="512.77" cy="457.7" r="1.7"/><circle cx="472.26" cy="476.48" r="1.7"/><circle cx="465.92" cy="481.54" r="1.7"/><circle cx="514.2" cy="457.95" r="1.7"/><circle cx="397.17" cy="511.12" r="1.7"/><circle cx="348" cy="533.03" r="1.7"/><circle cx="515.63" cy="461.18" r="1.7"/><circle cx="511.84" cy="466.88" r="1.7"/><circle cx="516.22" cy="455.44" r="1.7"/><circle cx="517.06" cy="461.56" r="1.7"/><circle cx="488.22" cy="472.77" r="1.7"/><circle cx="405.72" cy="503.21" r="1.7"/><circle cx="518.49" cy="449.95" r="1.7"/><circle cx="374.78" cy="523.81" r="1.7"/><circle cx="397.97" cy="512.93" r="1.7"/><circle cx="519.92" cy="454.77" r="1.7"/><circle cx="404.9" cy="509.38" r="1.7"/><circle cx="439.3" cy="490.56" r="1.7"/><circle cx="521.35" cy="455.68" r="1.7"/><circle cx="495.04" cy="473.8" r="1.7"/><circle cx="439.09" cy="489.23" r="1.7"/><circle cx="522.78" cy="450.02" r="1.7"/><circle cx="504.14" cy="464.84" r="1.7"/><circle cx="429.45" cy="495.75" r="1.7"/><circle cx="524.21" cy="461.53" r="1.7"/><circle cx="521.63" cy="458.72" r="1.7"/><circle cx="457.17" cy="484.25" r="1.7"/><circle cx="525.64" cy="456.95" r="1.7"/><circle cx="435.82" cy="493.49" r="1.7"/><circle cx="340.7" cy="532.26" r="1.7"/><circle cx="527.07" cy="455.6" r="1.7"/><circle cx="341.32" cy="539.72" r="1.7"/><circle cx="453.68" cy="481.78" r="1.7"/><circle cx="528.5" cy="448.5" r="1.7"/><circle cx="324.41" cy="518" r="1.7"/><circle cx="325.23" cy="523.59" r="1.7"/><circle cx="324.61" cy="528.94" r="1.7"/><circle cx="324.2" cy="534.89" r="1.7"/><circle cx="324.82" cy="532.03" r="1.7"/><circle cx="326.45" cy="536.79" r="1.7"/><circle cx="358.76" cy="516.58" r="1.7"/><circle cx="333.2" cy="526.09" r="1.7"/><circle cx="338.31" cy="524.3" r="1.7"/><circle cx="342.4" cy="525.49" r="1.7"/></g>
<g fill="#C3213F"><circle cx="324" cy="541.85" r="1.5"/><circle cx="329.84" cy="539.34" r="1.5"/><circle cx="335.69" cy="536.84" r="1.5"/><circle cx="341.53" cy="534.34" r="1.5"/><circle cx="347.37" cy="531.83" r="1.5"/><circle cx="353.21" cy="529.33" r="1.5"/><circle cx="359.06" cy="526.82" r="1.5"/><circle cx="364.9" cy="524.32" r="1.5"/><circle cx="370.74" cy="521.82" r="1.5"/><circle cx="376.59" cy="519.31" r="1.5"/><circle cx="382.43" cy="516.81" r="1.5"/><circle cx="388.27" cy="514.31" r="1.5"/><circle cx="394.11" cy="511.8" r="1.5"/><circle cx="399.96" cy="509.3" r="1.5"/><circle cx="405.8" cy="506.79" r="1.5"/><circle cx="411.64" cy="504.29" r="1.5"/><circle cx="417.49" cy="501.79" r="1.5"/><circle cx="423.33" cy="499.28" r="1.5"/><circle cx="429.17" cy="496.78" r="1.5"/><circle cx="435.01" cy="494.28" r="1.5"/><circle cx="440.86" cy="491.77" r="1.5"/><circle cx="446.7" cy="489.27" r="1.5"/><circle cx="452.54" cy="486.77" r="1.5"/><circle cx="458.39" cy="484.26" r="1.5"/><circle cx="464.23" cy="481.76" r="1.5"/><circle cx="470.07" cy="479.25" r="1.5"/><circle cx="475.91" cy="476.75" r="1.5"/><circle cx="481.76" cy="474.25" r="1.5"/><circle cx="487.6" cy="471.74" r="1.5"/><circle cx="493.44" cy="469.24" r="1.5"/><circle cx="499.29" cy="466.74" r="1.5"/><circle cx="505.13" cy="464.23" r="1.5"/><circle cx="510.97" cy="461.73" r="1.5"/><circle cx="516.81" cy="459.22" r="1.5"/><circle cx="522.66" cy="456.72" r="1.5"/><circle cx="528.5" cy="454.22" r="1.5"/></g>
</g>
</svg>
</body></html>
